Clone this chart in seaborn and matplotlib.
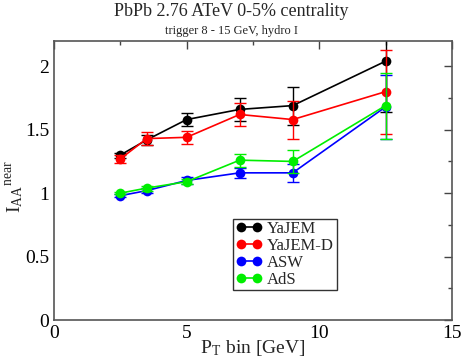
import matplotlib.pyplot as plt
import seaborn as sns
import pandas as pd

# data
pt_bins = [2.5, 3.5, 5.0, 7.0, 9.0, 12.5]
models = ["YaJEM", "YaJEM-D", "ASW", "AdS"]
colors = ["black", "red", "blue", "#00ee00"]

yajem = [1.30, 1.42, 1.58, 1.66, 1.69, 2.04]
yajem_err = [0.02, 0.04, 0.05, 0.09, 0.15, 0.40]
yajem_d = [1.27, 1.43, 1.44, 1.62, 1.58, 1.80]
yajem_d_err = [0.03, 0.05, 0.05, 0.09, 0.15, 0.33]
asw = [0.98, 1.02, 1.10, 1.16, 1.16, 1.68]
asw_err = [0.01, 0.02, 0.03, 0.04, 0.07, 0.25]
ads = [1.00, 1.04, 1.09, 1.26, 1.25, 1.69]
ads_err = [0.01, 0.02, 0.02, 0.05, 0.09, 0.26]

x_ticks = [0, 5, 10, 15]
y_ticks = [0, 0.5, 1, 1.5, 2]
y_tick_labels = ["0", "0.5", "1", "1.5", "2"]

values = [yajem, yajem_d, asw, ads]
errors = [yajem_err, yajem_d_err, asw_err, ads_err]

rows = []
for m, v, e in zip(models, values, errors):
    for x, y, err in zip(pt_bins, v, e):
        rows.append({"pt": x, "iaa": y, "err": err, "model": m})
df = pd.DataFrame(rows)

sns.set_style("white")
plt.rcParams['font.family'] = ['Liberation Serif', 'DejaVu Serif']
plt.rcParams['mathtext.fontset'] = 'stix'

fig = plt.figure(figsize=(4.63, 3.62), dpi=100)
ax = fig.add_axes([0.1166, 0.116, 0.8594, 0.771])

sns.lineplot(data=df, x="pt", y="iaa", hue="model", hue_order=models,
             palette=colors, marker='o', markersize=7, markeredgewidth=0,
             linewidth=1.2, ax=ax, legend=True)
series_lines = list(ax.lines)

# each series: error bars, then its line on top; later series drawn above
for i, (m, c) in enumerate(zip(models, colors)):
    d = df[df.model == m]
    ax.errorbar(d.pt, d.iaa, yerr=d.err, fmt='none', ecolor=c, elinewidth=1.0,
                capsize=4, capthick=1.0, zorder=2 + 2 * i)
    if i < len(series_lines):
        series_lines[i].set_zorder(3 + 2 * i)

ax.set_xlim(0, 15)
ax.set_ylim(0, 2.2)
ax.set_xticks(x_ticks)
ax.set_xticklabels([str(t) for t in x_ticks], fontsize=14)
ax.set_xticks([2.5, 7.5, 12.5], minor=True)
ax.set_yticks(y_ticks)
ax.set_yticklabels(y_tick_labels, fontsize=14)
ax.set_yticks([0.25, 0.75, 1.25, 1.75], minor=True)
ax.tick_params(which='both', direction='in', top=True, right=True, colors='#444',
               labelcolor='black')
ax.tick_params(which='major', length=6, width=1)
ax.tick_params(which='minor', length=3, width=1)
for s in ax.spines.values():
    s.set_color('#555')
    s.set_linewidth(1.2)
    s.set_zorder(20)

ax.set_xlabel(r"P$_{\mathregular{T}}$ bin [GeV]", fontsize=14)
ax.xaxis.set_label_coords(0.5, -0.064)
ax.set_ylabel(r"I$_{\mathregular{AA}}$$^{\mathregular{near}}$", fontsize=14)
ax.yaxis.set_label_coords(-0.07, 0.48)

fig.text(0.5, 0.955, "PbPb 2.76 ATeV 0-5% centrality", ha='center', fontsize=13)
fig.text(0.5, 0.905, "trigger 8 - 15 GeV, hydro I", ha='center', fontsize=9)

leg = ax.legend(loc='lower left', bbox_to_anchor=(0.45, 0.107), fontsize=12,
                frameon=True, fancybox=False, edgecolor='black', numpoints=2,
                handlelength=1.6, handletextpad=0.3, borderpad=0.15,
                labelspacing=0.05, borderaxespad=0)
leg.get_frame().set_linewidth(1.0)
leg.set_zorder(30)

fig.savefig("out.png", dpi=100)
